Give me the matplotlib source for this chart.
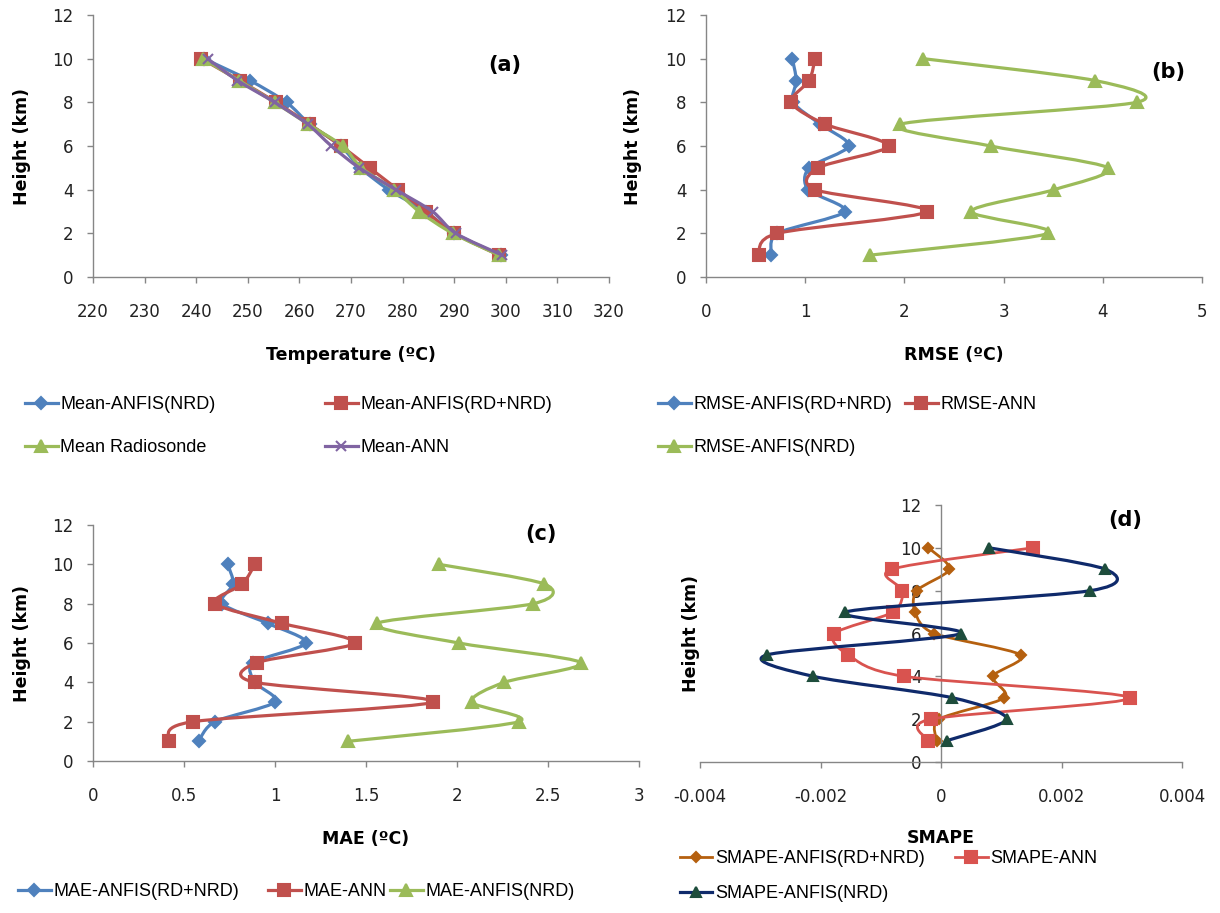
import numpy as np
import matplotlib
matplotlib.use("Agg")
from matplotlib import pyplot as plt
from matplotlib.path import Path
from matplotlib.patches import PathPatch
from matplotlib.lines import Line2D

height_km = [1, 2, 3, 4, 5, 6, 7, 8, 9, 10]

# (a) mean temperature profiles
mean_anfis_nrd = [299.0, 290.0, 284.5, 277.3, 271.8, 268.0, 262.0, 257.5, 250.4, 241.5]
mean_anfis_rd_nrd = [298.7, 290.0, 284.5, 279.1, 273.6, 268.1, 261.9, 255.5, 248.4, 241.0]
mean_radiosonde = [298.7, 289.7, 283.2, 278.4, 272.0, 268.4, 261.7, 255.2, 248.3, 241.3]
mean_ann = [299.3, 290.3, 285.8, 278.7, 271.6, 266.2, 261.6, 255.2, 248.0, 242.2]

# (b) RMSE
rmse_anfis_rd_nrd = [0.66, 0.72, 1.40, 1.03, 1.04, 1.44, 1.15, 0.88, 0.91, 0.87]
rmse_ann = [0.53, 0.72, 2.23, 1.10, 1.13, 1.84, 1.20, 0.86, 1.04, 1.10]
rmse_anfis_nrd = [1.65, 3.45, 2.67, 3.51, 4.05, 2.87, 1.96, 4.34, 3.92, 2.19]

# (c) MAE
mae_anfis_rd_nrd = [0.58, 0.67, 1.00, 0.89, 0.88, 1.17, 0.96, 0.71, 0.77, 0.74]
mae_ann = [0.42, 0.55, 1.87, 0.89, 0.90, 1.44, 1.04, 0.67, 0.82, 0.89]
mae_anfis_nrd = [1.40, 2.34, 2.08, 2.26, 2.68, 2.01, 1.56, 2.42, 2.48, 1.90]

# (d) SMAPE
smape_anfis_rd_nrd = [-0.00007, -0.00003, 0.00105, 0.00086, 0.00132, -0.00011, -0.00043, -0.00040, 0.00014, -0.00021]
smape_ann = [-0.00021, -0.00017, 0.00314, -0.00061, -0.00154, -0.00177, -0.00080, -0.00064, -0.00082, 0.00152]
smape_anfis_nrd = [0.00010, 0.00109, 0.00019, -0.00212, -0.00289, 0.00033, -0.00159, 0.00248, 0.00273, 0.00080]

BLUE = "#4F81BD"
RED = "#C0504D"
GREEN = "#9BBB59"
PURPLE = "#8064A2"
BROWN = "#B5600F"
NAVY = "#0F2A6B"
AXIS_GREY = "#868686"

plt.rcParams["font.family"] = ["DejaVu Sans"]
LEGEND_FONT = ["Liberation Sans", "DejaVu Sans"]


def smooth_path(x, y):
    # excel-like smoothed line through the points
    pts = np.column_stack([x, y])
    n = len(pts)
    verts = [pts[0]]
    codes = [Path.MOVETO]
    for i in range(n - 1):
        p0 = pts[i - 1] if i > 0 else pts[i]
        p1 = pts[i]
        p2 = pts[i + 1]
        p3 = pts[i + 2] if i + 2 < n else pts[i + 1]
        verts += [p1 + (p2 - p0) / 7, p2 - (p3 - p1) / 7, p2]
        codes += [Path.CURVE4] * 3
    return Path(verts, codes)


def series(ax, x, y, color, marker, ms, mfc=None, z=2, lw=2.3):
    ax.add_patch(PathPatch(smooth_path(x, y), fill=False, edgecolor=color,
                           lw=lw, joinstyle="round", capstyle="round", zorder=z))
    ax.plot(x, y, linestyle="none", marker=marker, ms=ms, color=color,
            mfc=mfc or color, mec=mfc or color, mew=1.5, zorder=z + 0.5)
    return Line2D([], [], color=color, lw=lw, marker=marker, ms=ms,
                  mfc=mfc or color, mec=mfc or color, mew=1.5)


def style_axis(ax, xlim, xticks, xticklabels, xlabel, ylabel, ylabel_x):
    ax.set_xlim(*xlim)
    ax.set_ylim(0, 12)
    ax.set_xticks(xticks)
    ax.set_xticklabels(xticklabels)
    ax.set_yticks(range(0, 13, 2))
    for s in ("top", "right"):
        ax.spines[s].set_visible(False)
    for s in ("left", "bottom"):
        ax.spines[s].set_color(AXIS_GREY)
        ax.spines[s].set_linewidth(1.0)
    ax.tick_params(colors=AXIS_GREY, labelcolor="#222222", labelsize=12,
                   length=4, width=1.0, direction="out")
    ax.tick_params(axis="x", pad=15)
    ax.tick_params(axis="y", pad=10)
    ax.set_xlabel(xlabel, fontsize=12.5, fontweight="bold", labelpad=18)
    ax.set_ylabel(ylabel, fontsize=12.5, fontweight="bold")
    ax.yaxis.set_label_coords(ylabel_x, 0.5)


def panel_label(ax, x, y, text):
    ax.text(x, y, text, transform=ax.transAxes, fontsize=15, fontweight="bold",
            ha="center", va="center")


def add_legend(fig, handles, labels, x, y, spacing=1.45):
    leg = fig.legend(handles, labels, loc="upper left", bbox_to_anchor=(x, y),
                     frameon=False, ncol=1, handlelength=1.8, handletextpad=0.15,
                     labelspacing=spacing, borderpad=0, borderaxespad=0,
                     prop={"family": LEGEND_FONT, "size": 13})
    return leg


fig = plt.figure(figsize=(12.2, 9.13), dpi=100)
W, H = 1220.0, 913.0


def axes_px(left, right, top, bottom):
    return fig.add_axes([left / W, 1 - bottom / H, (right - left) / W, (bottom - top) / H])


# (a)
ax_a = axes_px(93, 609, 15, 277)
ha1 = series(ax_a, mean_anfis_nrd, height_km, BLUE, "D", 6.5, z=2)
ha2 = series(ax_a, mean_anfis_rd_nrd, height_km, RED, "s", 8, z=3)
ha3 = series(ax_a, mean_radiosonde, height_km, GREEN, "^", 8, z=4)
ha4 = series(ax_a, mean_ann, height_km, PURPLE, "x", 7, z=5)
style_axis(ax_a, (220, 320), range(220, 321, 10), [str(v) for v in range(220, 321, 10)],
           "Temperature (ºC)", "Height (km)", -0.12)
panel_label(ax_a, 0.798, 0.81, "(a)")

# (b)
ax_b = axes_px(706, 1202, 15, 277)
hb1 = series(ax_b, rmse_anfis_rd_nrd, height_km, BLUE, "D", 6.5, z=2)
hb2 = series(ax_b, rmse_ann, height_km, RED, "s", 8, z=3)
hb3 = series(ax_b, rmse_anfis_nrd, height_km, GREEN, "^", 8, z=4)
style_axis(ax_b, (0, 5), range(0, 6), [str(v) for v in range(0, 6)],
           "RMSE (ºC)", "Height (km)", -0.129)
panel_label(ax_b, 0.931, 0.782, "(b)")

# (c)
ax_c = axes_px(93, 639, 525, 761)
hc1 = series(ax_c, mae_anfis_rd_nrd, height_km, BLUE, "D", 6.5, z=2)
hc2 = series(ax_c, mae_ann, height_km, RED, "s", 8, z=3)
hc3 = series(ax_c, mae_anfis_nrd, height_km, GREEN, "^", 8, z=4)
style_axis(ax_c, (0, 3), np.arange(0, 3.01, 0.5), ["0", "0.5", "1", "1.5", "2", "2.5", "3"],
           "MAE (ºC)", "Height (km)", -0.114)
panel_label(ax_c, 0.82, 0.962, "(c)")

# (d)
ax_d = axes_px(700, 1182, 505, 762)
hd1 = series(ax_d, smape_anfis_rd_nrd, height_km, BROWN, "D", 5, z=2, lw=2.0)
hd2 = series(ax_d, smape_ann, height_km, "#D9534F", "s", 8, z=3, lw=2.0)
hd3 = series(ax_d, smape_anfis_nrd, height_km, NAVY, "^", 6.5, mfc="#1E4D3C", z=4, lw=2.3)
style_axis(ax_d, (-0.004, 0.004), [-0.004, -0.002, 0, 0.002, 0.004],
           ["-0.004", "-0.002", "0", "0.002", "0.004"], "SMAPE", "Height (km)", 0.0)
ax_d.spines["left"].set_position(("data", 0))
ax_d.xaxis.labelpad = 16
panel_label(ax_d, 0.882, 0.942, "(d)")

# legends
add_legend(fig, [ha1, ha3], ["Mean-ANFIS(NRD)", "Mean Radiosonde"], 25 / W, 1 - 396 / H)
add_legend(fig, [ha2, ha4], ["Mean-ANFIS(RD+NRD)", "Mean-ANN"], 325 / W, 1 - 396 / H)
add_legend(fig, [hb1, hb3], ["RMSE-ANFIS(RD+NRD)", "RMSE-ANFIS(NRD)"], 658 / W, 1 - 396 / H)
add_legend(fig, [hb2], ["RMSE-ANN"], 905 / W, 1 - 396 / H)
add_legend(fig, [hc1], ["MAE-ANFIS(RD+NRD)"], 18 / W, 1 - 883 / H)
add_legend(fig, [hc2], ["MAE-ANN"], 268 / W, 1 - 883 / H)
add_legend(fig, [hc3], ["MAE-ANFIS(NRD)"], 390 / W, 1 - 883 / H)
add_legend(fig, [hd1, hd3], ["SMAPE-ANFIS(RD+NRD)", "SMAPE-ANFIS(NRD)"], 680 / W, 1 - 850 / H,
           spacing=1.0)
add_legend(fig, [hd2], ["SMAPE-ANN"], 955 / W, 1 - 850 / H)

fig.savefig("out.png", dpi=100)
